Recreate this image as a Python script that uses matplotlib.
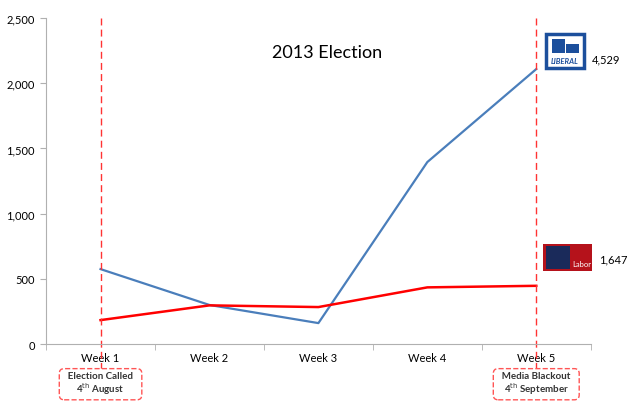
import numpy as np
import matplotlib.pyplot as plt
from matplotlib.patches import Rectangle

weeks = ['Week 1', 'Week 2', 'Week 3', 'Week 4', 'Week 5']
liberal = [575, 300, 161, 1396, 2109]
labor = [184, 297, 284, 435, 447]
yticks = [0, 500, 1000, 1500, 2000, 2500]
ytick_labels = ['0', '500', '1,000', '1,500', '2,000', '2,500']
liberal_total = '4,529'
labor_total = '1,647'

plt.rcParams['font.family'] = ['Lato', 'DejaVu Sans']

fig = plt.figure(figsize=(6.4, 4.06), dpi=100)
ax = fig.add_axes([0.072, 0.150, 0.851, 0.803])

x = np.arange(len(weeks))
ax.plot(x, liberal, color='#4a7ebb', lw=1.6)
ax.plot(x, labor, color='#ff0000', lw=1.8)

ax.set_xlim(-0.5, len(weeks) - 0.5)
ax.set_ylim(0, 2500)
ax.set_yticks(yticks)
ax.set_yticklabels(ytick_labels, fontsize=8)
ax.set_xticks(x)
ax.set_xticklabels(weeks, fontsize=8)
ax.set_xticks(np.arange(-0.5, len(weeks)), minor=True)
ax.tick_params(axis='x', which='major', length=0, pad=6)
ax.tick_params(axis='x', which='minor', length=4, color='#b0b0b0')
ax.tick_params(axis='y', length=4, color='#b0b0b0', pad=4)
for s in ['top', 'right']:
    ax.spines[s].set_visible(False)
for s in ['left', 'bottom']:
    ax.spines[s].set_color('#b0b0b0')

ax.text(2.08, 2240, '2013 Election', ha='center', va='center', fontsize=13)

# dashed markers for election called / media blackout
for xi in [0, 4]:
    ax.plot([xi, xi], [2500, -390], color='#ff3333', lw=1, ls=(0, (5, 3)),
            clip_on=False)

notes = [(0, '  Election Called  \n4$^{\\mathrm{th}}$ August'),
         (4, '  Media Blackout  \n4$^{\\mathrm{th}}$ September')]
for xi, txt in notes:
    ax.text(xi, -300, txt, ha='center', va='center', fontsize=7,
            fontweight='bold', color='#333333', linespacing=1.05,
            bbox=dict(boxstyle='round,pad=0.4,rounding_size=0.5',
                      fc='white', ec='#ff5555', ls='--', lw=1))

# party badges
fig.patches.append(Rectangle((546 / 640, 337 / 406), 38 / 640, 34 / 406,
                             transform=fig.transFigure, fc='white',
                             ec='#1c4f9c', lw=2.5))
fig.patches.append(Rectangle((552 / 640, 352 / 406), 13 / 640, 14 / 406,
                             transform=fig.transFigure, fc='#1c4f9c', ec='none'))
fig.patches.append(Rectangle((566 / 640, 352 / 406), 13 / 640, 9 / 406,
                             transform=fig.transFigure, fc='#1c4f9c', ec='none'))
fig.text(565 / 640, 344 / 406, 'LIBERAL', ha='center', va='center',
         fontsize=5.5, fontweight='bold', color='#1c4f9c', style='italic')
fig.text(592 / 640, 346 / 406, liberal_total, ha='left', va='center', fontsize=8)

fig.patches.append(Rectangle((543 / 640, 134 / 406), 49 / 640, 27 / 406,
                             transform=fig.transFigure, fc='#b5121b', ec='none'))
fig.patches.append(Rectangle((546 / 640, 136 / 406), 24 / 640, 23 / 406,
                             transform=fig.transFigure, fc='#1a2a5a', ec='none'))
fig.text(582 / 640, 141 / 406, 'Labor', ha='center', va='center',
         fontsize=5.5, color='white')
fig.text(599 / 640, 146 / 406, labor_total, ha='left', va='center', fontsize=8)

fig.savefig('out.png', dpi=100)
